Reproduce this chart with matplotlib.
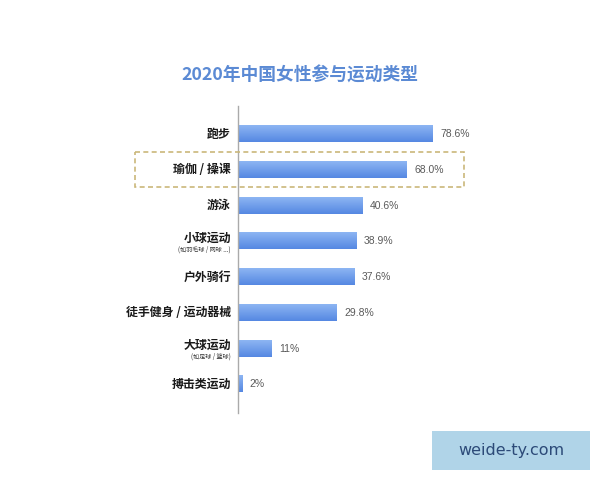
import matplotlib.pyplot as plt
import matplotlib.transforms as mtransforms
from matplotlib.patches import Rectangle
import numpy as np

plt.rcParams['font.family'] = ['Noto Sans CJK SC', 'DejaVu Sans']

# 数据
categories = ['跑步', '瑜伽 / 操课', '游泳', '小球运动', '户外骑行',
              '徒手健身 / 运动器械', '大球运动', '搏击类运动']
sub_labels = ['', '', '', '(如羽毛球 / 网球 ...)', '', '', '(如足球 / 篮球)', '']
value_labels = ['78.6%', '68.0%', '40.6%', '38.9%', '37.6%', '29.8%', '11%', '2%']
# 原图里条形长度并不严格按比例, 这里按图上量出来的长度
bar_lengths = [78.6, 68.1, 50.2, 47.7, 46.8, 39.9, 13.5, 1.7]
highlight = 1  # 瑜伽 / 操课 那一行加虚线框

fig = plt.figure(figsize=(6, 4.8), dpi=100)
ax = fig.add_axes([0.397, 0.14, 0.4133, 0.64])

# 渐变色的条形
grad = np.linspace(0, 1, 50).reshape(-1, 1)
cmap = plt.matplotlib.colors.LinearSegmentedColormap.from_list('b', ['#8db5f3', '#5588e2'])
bar_h = 0.45
for i, v in enumerate(bar_lengths):
    ax.imshow(grad, extent=[0, v, i + bar_h / 2, i - bar_h / 2], aspect='auto',
              cmap=cmap, interpolation='bilinear', zorder=2)
    ax.text(v + 3.0, i, value_labels[i], va='center', ha='left', fontsize=7.5,
            color='#5a5a5a', family='Liberation Sans')
    if sub_labels[i]:
        ax.text(-3, i - 0.1, categories[i], va='center', ha='right', fontsize=8.6,
                fontweight='bold', color='#1a1a1a')
        ax.text(-3, i + 0.22, sub_labels[i], va='center', ha='right', fontsize=4.4,
                color='#333333')
    else:
        ax.text(-3, i, categories[i], va='center', ha='right', fontsize=8.6,
                fontweight='bold', color='#1a1a1a')

ax.set_xlim(0, 100)
ax.set_ylim(len(bar_lengths) - 0.2, -0.8)
for s in ['top', 'right', 'bottom']:
    ax.spines[s].set_visible(False)
ax.spines['left'].set_color('#aaaaaa')
ax.spines['left'].set_linewidth(1)
ax.set_xticks([])
ax.set_yticks([])
ax.patch.set_alpha(0)

# 虚线框
trans = mtransforms.blended_transform_factory(fig.transFigure, ax.transData)
box = Rectangle((135 / 600, highlight - 0.5), (464 - 135) / 600, 0.98,
                transform=trans, fill=False, edgecolor='#cbb87a', linestyle=(0, (3, 2)),
                linewidth=1.2, clip_on=False)
fig.add_artist(box)

# 标题
fig.text(0.5, 0.843, '2020年中国女性参与运动类型', ha='center', va='center',
         fontsize=12.8, fontweight='bold', color='#5b8ad4')

# 水印
fig.add_artist(Rectangle((432 / 600, 1 - 470 / 480), 158 / 600, 39 / 480,
                         transform=fig.transFigure, facecolor='#b0d4e8', edgecolor='none'))
fig.text(511 / 600, 1 - 451 / 480, 'weide-ty.com', ha='center', va='center',
         fontsize=11.5, color='#2c4a78', family='DejaVu Sans')

fig.savefig('out.png', dpi=100)
